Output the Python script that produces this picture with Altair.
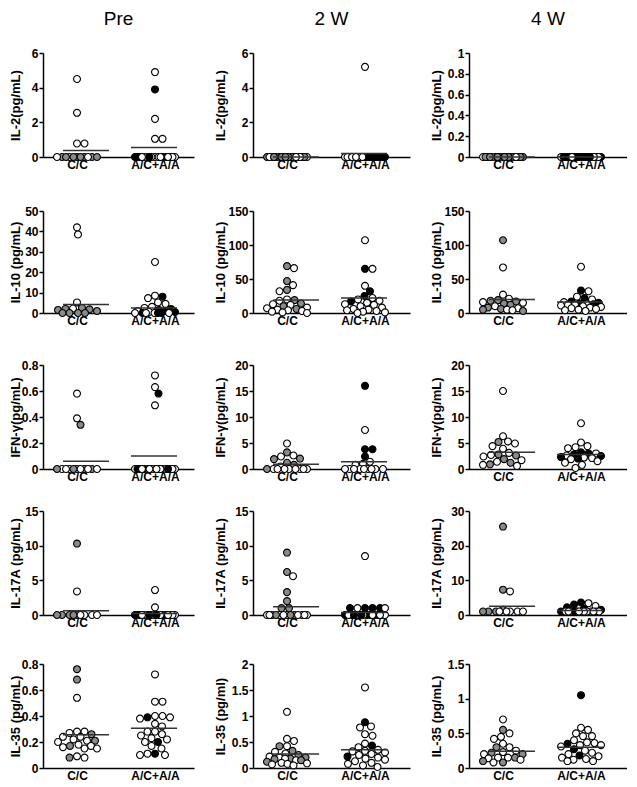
import math
import altair as alt
import pandas as pd

# ---------------- data ----------------
TIMES = ["Pre", "2 W", "4 W"]
GROUPS = ["C/C", "A/C+A/A"]

# fill codes: w = white, g = grey, k = black
# Row 1: IL-2
PRE_IL2_CC = [4.5, 2.55, 0.78, 0.78, 0, 0, 0, 0, 0, 0, 0, 0, 0, 0, 0]
PRE_IL2_CC_F = "wwwwggwgggwggwg"
PRE_IL2_AA = [4.9, 3.9, 2.2, 1.05, 1.05] + [0] * 17
PRE_IL2_AA_F = "wkwww" + "wkwwkwkwwkwwkwkww"
W2_IL2_CC = [0] * 20
W2_IL2_CC_F = "gwgggwggwgggwggwgggw"
W2_IL2_AA = [5.2] + [0] * 24
W2_IL2_AA_F = "w" + "kwkwwkwkkwwkwkwkwwkkwkwk"
W4_IL2_CC = [0] * 18
W4_IL2_CC_F = "ggwgggwgggwggggwgg"
W4_IL2_AA = [0] * 24
W4_IL2_AA_F = "kkwkkkwkkkkwkkkwkkkkwkkk"

# Row 2: IL-10
PRE_IL10_CC = [42, 38.5, 5.2, 2.5, 2.2, 2.0, 1.8, 1.5, 1.0, 0, 0, 0, 0]
PRE_IL10_CC_F = "wwwgwgggggggg"
PRE_IL10_AA = [25, 8.5, 8.0, 7.3, 5.2, 4.5, 3.0, 2.5, 2.0, 1.5, 1.0, 1.0, 0.5, 0.5, 0, 0, 0, 0, 0, 0, 0]
PRE_IL10_AA_F = "wwkwwwwwkkwkwk" + "wkwkwkw"
W2_IL10_CC = [69, 66, 47, 41, 34, 32, 20, 19, 18, 14, 13, 12, 10, 8, 7, 6, 5, 4, 3, 2, 1, 0]
W2_IL10_CC_F = "gwgwgwwgwgwwgwwgwwwwww"
W2_IL10_AA = [107, 65, 65, 40, 32, 25, 22, 20, 18, 17, 15, 13, 12, 10, 8, 6, 5, 4, 3, 2, 1, 0]
W2_IL10_AA_F = "wkwwkkwwwkwwwwwwwwwwww"
W4_IL10_CC = [107, 67, 27, 21, 19, 18, 17, 16, 15, 14, 12, 10, 8, 7, 6, 5, 5, 4, 3]
W4_IL10_CC_F = "gwwwgggwwggwgwgwgwg"
W4_IL10_AA = [68, 33, 32, 24, 22, 20, 17, 16, 15, 14, 13, 13, 12, 12, 11, 10, 9, 8, 7, 6, 5, 4, 3]
W4_IL10_AA_F = "wkwwkwkwkkwkwwwwwwwwwww"

# Row 3: IFN-gamma
PRE_IFN_CC = [0.58, 0.39, 0.34] + [0] * 11
PRE_IFN_CC_F = "wwg" + "wgwgwwgwgww"
PRE_IFN_AA = [0.72, 0.63, 0.58, 0.49] + [0] * 18
PRE_IFN_AA_F = "wwkw" + "wkwwkwwkwwkwkwwkww"
W2_IFN_CC = [4.9, 3.2, 2.6, 2.4, 2.0, 1.9, 1.2, 0.8, 0.5] + [0] * 9
W2_IFN_CC_F = "wgwwggggw" + "wwwwgwwww"
W2_IFN_AA = [16, 7.5, 3.8, 3.8, 2.4, 1.4, 1.0, 0.8] + [0] * 9
W2_IFN_AA_F = "kwkkkwww" + "wwwwwwwww"
W4_IFN_CC = [15, 6.3, 5.3, 5.2, 4.9, 4.4, 3.9, 3.1, 2.8, 2.7, 2.6, 2.4, 1.9, 1.7, 1.4, 1.2, 0.9, 0.8, 0.6]
W4_IFN_CC_F = "wwwgwwwwgwgwgwwggww"
W4_IFN_AA = [8.8, 5.1, 4.4, 4.2, 4.0, 3.2, 3.0, 3.0, 2.8, 2.6, 2.5, 2.3, 2.2, 2.1, 2.0, 1.9, 1.5, 1.2, 0.8, 0.2]
W4_IFN_AA_F = "wwwwwkkwkwkkwwkwwwww"

# Row 4: IL-17A
PRE_IL17_CC = [10.3, 3.4] + [0] * 9
PRE_IL17_CC_F = "gw" + "gwgwgwgwg"
PRE_IL17_AA = [3.6, 1.1] + [0] * 18
PRE_IL17_AA_F = "ww" + "wkwwkwkwwkwwkwkwwk"
W2_IL17_CC = [9.0, 6.2, 5.6, 3.3, 2.0, 1.0, 1.0] + [0] * 13
W2_IL17_CC_F = "ggwgggg" + "wgwwgwwgwwgww"
W2_IL17_AA = [8.5, 1.0, 1.0, 1.0, 1.0, 1.0, 1.0] + [0] * 16
W2_IL17_AA_F = "w" + "kkwkkw" + "kwkwwkwkwkwwkwkw"
W4_IL17_CC = [25.5, 7.3, 6.8, 1.5] + [1.0] * 8
W4_IL17_CC_F = "ggwg" + "wgwgwgww"
W4_IL17_AA = [3.6, 3.4, 3.0, 2.6, 2.2, 1.8, 1.5] + [1.0] * 14
W4_IL17_AA_F = "kwkwkkk" + "wkwwkwwwkwwwww"

# Row 5: IL-35
PRE_IL35_CC = [0.76, 0.68, 0.54, 0.28, 0.28, 0.27, 0.26, 0.24, 0.24, 0.22, 0.21, 0.21, 0.20, 0.18, 0.17, 0.17, 0.16, 0.15, 0.15, 0.09, 0.08, 0.08]
PRE_IL35_CC_F = "ggwwwwgwwwwgwwgwwwwwwg"
PRE_IL35_AA = [0.72, 0.51, 0.51, 0.40, 0.40, 0.39, 0.39, 0.38, 0.34, 0.32, 0.28, 0.28, 0.26, 0.25, 0.23, 0.22, 0.20, 0.20, 0.17, 0.15, 0.11, 0.11, 0.10, 0.10]
PRE_IL35_AA_F = "wwwwwkwwwwwwwwwwkwwwkwww"
W2_IL35_CC = [1.08, 0.56, 0.52, 0.42, 0.42, 0.33, 0.31, 0.28, 0.25, 0.22, 0.20, 0.20, 0.18, 0.18, 0.17, 0.15, 0.15, 0.12, 0.10, 0.09, 0.08, 0.07, 0.05]
W2_IL35_CC_F = "wwwwggwwgwwggwgwggwwwww"
W2_IL35_AA = [1.55, 0.88, 0.80, 0.78, 0.65, 0.62, 0.47, 0.43, 0.40, 0.35, 0.33, 0.32, 0.30, 0.27, 0.25, 0.22, 0.20, 0.18, 0.16, 0.13, 0.10, 0.08, 0.05, 0.02]
W2_IL35_AA_F = "wkwwwwwkwwwwwwwkwwwwwwww"
W4_IL35_CC = [0.70, 0.55, 0.50, 0.45, 0.42, 0.35, 0.30, 0.30, 0.25, 0.23, 0.22, 0.20, 0.20, 0.15, 0.15, 0.15, 0.14, 0.12, 0.10, 0.08, 0.08]
W4_IL35_CC_F = "wgwwwwwgwwgwgwwgwwggw"
W4_IL35_AA = [1.05, 0.58, 0.55, 0.50, 0.46, 0.46, 0.40, 0.37, 0.36, 0.35, 0.33, 0.33, 0.31, 0.27, 0.25, 0.22, 0.20, 0.18, 0.17, 0.15, 0.13, 0.12, 0.10, 0.10]
W4_IL35_AA_F = "kwwwwwwwwkwwwkwwwkwwwwww"

# group means (horizontal lines) per row, per time, [C/C, A/C+A/A]
MEANS = [
    [[0.38, 0.55], [0.0, 0.2], [0.0, 0.0]],
    [[4.2, 2.5], [19, 22], [20, 16]],
    [[0.06, 0.10], [0.9, 1.4], [3.2, 2.8]],
    [[0.6, 0.2], [1.2, 0.35], [2.5, 1.3]],
    [[0.255, 0.305], [0.27, 0.35], [0.24, 0.30]],
]

Y_TITLES = [
    ["IL-2(pg/mL)"] * 3,
    ["IL-10 (pg/mL)"] * 3,
    ["IFN-γ(pg/mL)"] * 3,
    ["IL-17A (pg/mL)"] * 3,
    ["IL-35 (pg/mL)", "IL-35 (pg/ml)", "IL-35 (pg/mL)"],
]
Y_MAX = [[6, 6, 1], [50, 150, 150], [0.8, 20, 20], [15, 15, 30], [0.8, 2, 1.5]]
Y_TICKS = [
    [[0, 2, 4, 6], [0, 2, 4, 6], [0, 0.2, 0.4, 0.6, 0.8, 1]],
    [[0, 10, 20, 30, 40, 50], [0, 50, 100, 150], [0, 50, 100, 150]],
    [[0, 0.2, 0.4, 0.6, 0.8], [0, 5, 10, 15, 20], [0, 5, 10, 15, 20]],
    [[0, 5, 10, 15], [0, 5, 10, 15], [0, 10, 20, 30]],
    [[0, 0.2, 0.4, 0.6, 0.8], [0, 0.5, 1, 1.5, 2], [0, 0.5, 1, 1.5]],
]

PANELS = [
    [((PRE_IL2_CC, PRE_IL2_CC_F), (PRE_IL2_AA, PRE_IL2_AA_F)),
     ((W2_IL2_CC, W2_IL2_CC_F), (W2_IL2_AA, W2_IL2_AA_F)),
     ((W4_IL2_CC, W4_IL2_CC_F), (W4_IL2_AA, W4_IL2_AA_F))],
    [((PRE_IL10_CC, PRE_IL10_CC_F), (PRE_IL10_AA, PRE_IL10_AA_F)),
     ((W2_IL10_CC, W2_IL10_CC_F), (W2_IL10_AA, W2_IL10_AA_F)),
     ((W4_IL10_CC, W4_IL10_CC_F), (W4_IL10_AA, W4_IL10_AA_F))],
    [((PRE_IFN_CC, PRE_IFN_CC_F), (PRE_IFN_AA, PRE_IFN_AA_F)),
     ((W2_IFN_CC, W2_IFN_CC_F), (W2_IFN_AA, W2_IFN_AA_F)),
     ((W4_IFN_CC, W4_IFN_CC_F), (W4_IFN_AA, W4_IFN_AA_F))],
    [((PRE_IL17_CC, PRE_IL17_CC_F), (PRE_IL17_AA, PRE_IL17_AA_F)),
     ((W2_IL17_CC, W2_IL17_CC_F), (W2_IL17_AA, W2_IL17_AA_F)),
     ((W4_IL17_CC, W4_IL17_CC_F), (W4_IL17_AA, W4_IL17_AA_F))],
    [((PRE_IL35_CC, PRE_IL35_CC_F), (PRE_IL35_AA, PRE_IL35_AA_F)),
     ((W2_IL35_CC, W2_IL35_CC_F), (W2_IL35_AA, W2_IL35_AA_F)),
     ((W4_IL35_CC, W4_IL35_CC_F), (W4_IL35_AA, W4_IL35_AA_F))],
]

# ---------------- layout / style ----------------
FONT = "Liberation Sans"
COL_W = [151, 157, 158]
ROW_H = [104, 102, 104, 104, 104]
CENTERS = [34, 112]           # group centres (px from y axis)
LINE_SPAN = [(20, 66), (88, 134)]
Y_EXTENT = [20, 24, 24]
Y_TITLE_PAD = [1, 2, 2]
DOT_D = 7.2
MAX_HALF = 20


def swarm(vals, vmax, h):
    """Simple beeswarm: horizontal offsets (px) so dots do not overlap."""
    ys = [v / vmax * h for v in vals]
    order = sorted(range(len(vals)), key=lambda i: -vals[i])
    cands = [0.0]
    for k in range(1, int(MAX_HALF * 2) + 1):
        cands += [k * 0.5, -k * 0.5]
    placed, xs = [], [0.0] * len(vals)
    for i in order:
        y = ys[i]
        best, bestc, bestd = None, 0.0, -1
        for c in cands:
            md = min((math.hypot(c - px, y - py) for px, py in placed), default=1e9)
            if md >= DOT_D:
                best = c
                break
            if md > bestd:
                bestd, bestc = md, c
        xs[i] = best if best is not None else bestc
        placed.append((xs[i], y))
    return xs


def panel(r, c):
    W, H, vmax = COL_W[c], ROW_H[r], Y_MAX[r][c]
    rows = []
    n = 0
    for g, (vals, fills) in enumerate(PANELS[r][c]):
        offs = swarm(vals, vmax, H)
        for v, f, o in zip(vals, fills, offs):
            rows.append({"x": CENTERS[g] + o, "v": v, "f": f, "o": n})
            n += 1
    df = pd.DataFrame(rows)
    mdf = pd.DataFrame({
        "x": [LINE_SPAN[0][0], LINE_SPAN[1][0]],
        "xe": [LINE_SPAN[0][1], LINE_SPAN[1][1]],
        "v": MEANS[r][c],
    })
    xscale = alt.Scale(domain=[0, W], nice=False, zero=False)
    yscale = alt.Scale(domain=[0, vmax], nice=False)
    xaxis = alt.Axis(values=CENTERS, labelExpr="datum.value < 70 ? 'C/C' : 'A/C+A/A'",
                     ticks=False, grid=False, title=None, domainColor="black", domainWidth=1.5,
                     labelFont=FONT, labelFontWeight="bold", labelFontSize=12, labelColor="black",
                     labelPadding=2, labelFlush=False, labelOverlap=False)
    yaxis = alt.Axis(values=Y_TICKS[r][c], labelExpr="'' + datum.value", title=Y_TITLES[r][c], grid=False,
                     tickSize=4, tickWidth=1.5, tickColor="black", domainColor="black", domainWidth=1.5,
                     labelFont=FONT, labelFontWeight="bold", labelFontSize=12, labelColor="black",
                     labelPadding=1, titleFont=FONT, titleFontWeight="bold", titleFontSize=13,
                     titleColor="black", titlePadding=Y_TITLE_PAD[c],
                     minExtent=Y_EXTENT[c], maxExtent=Y_EXTENT[c], labelOverlap=False)
    pts = alt.Chart(df).mark_circle(size=48, stroke="black", strokeWidth=1.1, opacity=1).encode(
        x=alt.X("x:Q", scale=xscale, axis=xaxis),
        y=alt.Y("v:Q", scale=yscale, axis=yaxis),
        fill=alt.Fill("f:N", scale=alt.Scale(domain=["w", "g", "k"],
                                             range=["#ffffff", "#8a8a8a", "#000000"]), legend=None),
        order=alt.Order("o:Q"),
    )
    rule = alt.Chart(mdf).mark_rule(stroke="#333333", strokeWidth=1.5).encode(
        x=alt.X("x:Q", scale=xscale, axis=xaxis),
        x2="xe:Q",
        y=alt.Y("v:Q", scale=yscale, axis=yaxis),
    )
    ch = alt.layer(pts, rule).properties(width=W, height=H)
    if r == 0:
        ch = ch.properties(title=alt.TitleParams(TIMES[c], font=FONT, fontSize=19, fontWeight="normal",
                                                 color="black", anchor="middle", frame="group", offset=18))
    return ch


R = [alt.hconcat(*[panel(r, c) for c in range(3)], spacing=20) for r in range(5)]
mid = alt.vconcat(R[1], R[2], spacing=33)
low = alt.vconcat(R[3], R[4], spacing=30)
rest = alt.vconcat(mid, low, spacing=23)
chart = alt.vconcat(R[0], rest, spacing=35).properties(
    padding={"left": 1, "top": 2, "right": 0, "bottom": 0}
).configure_view(strokeWidth=0)

chart.save("out.html", embed_options={"renderer": "svg", "actions": False})
